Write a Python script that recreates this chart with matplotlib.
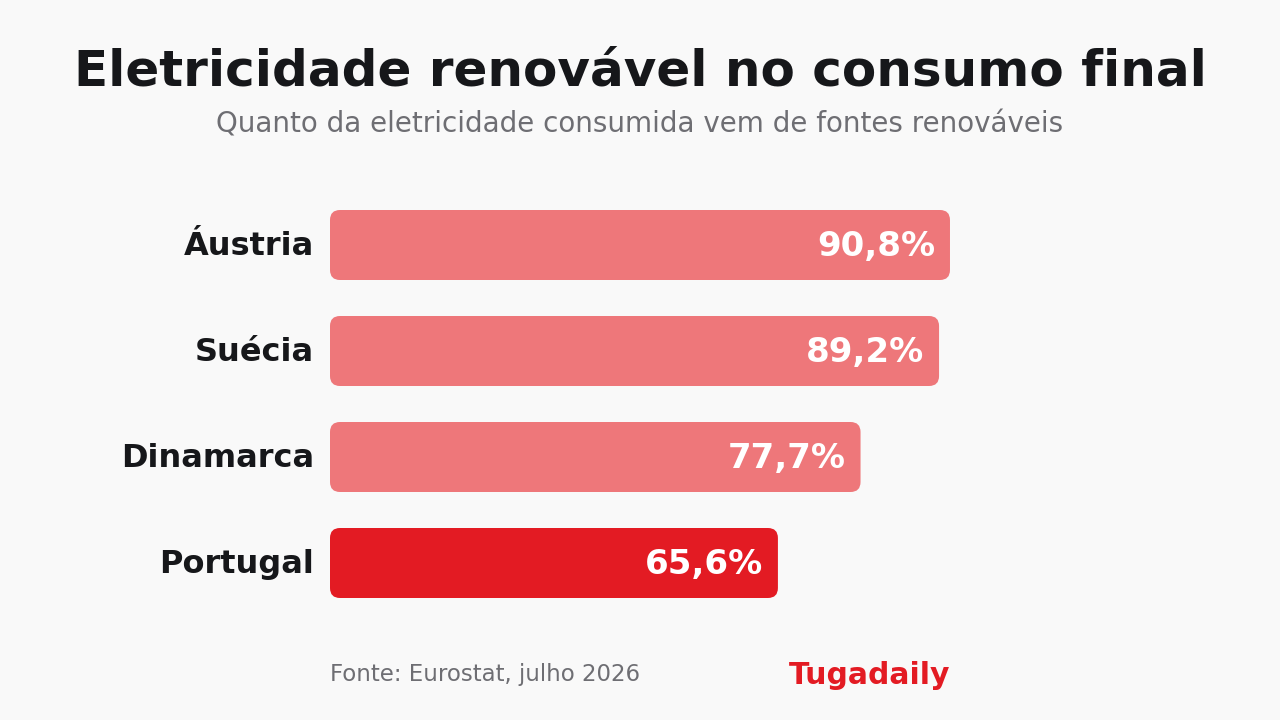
import matplotlib.pyplot as plt
from matplotlib.patches import FancyBboxPatch

# data
countries = ["Áustria", "Suécia", "Dinamarca", "Portugal"]
values = [90.8, 89.2, 77.7, 65.6]
value_labels = ["90,8%", "89,2%", "77,7%", "65,6%"]
highlight = "Portugal"

BG = "#F9F9F9"
BAR = "#EE777A"
RED = "#E31B23"
DARK = "#16171A"
GRAY = "#6E6E73"

plt.rcParams['font.family'] = ['DejaVu Sans']

fig = plt.figure(figsize=(12.8, 7.2), dpi=100, facecolor=BG)
ax = fig.add_axes([330 / 1280, (720 - 616) / 720, 682.8 / 1280, 424 / 720])
ax.set_facecolor(BG)
ax.set_xlim(0, 100)
ax.set_ylim(len(countries) - 0.5, -0.5)
ax.axis("off")

bar_h = 70 / 106
# rounding ~10px: x units = 6.828 px, y unit = 106 px
r = 10 / 6.828
aspect = (10 / 106) / r

for i, (c, v, lab) in enumerate(zip(countries, values, value_labels)):
    col = RED if c == highlight else BAR
    box = FancyBboxPatch((0, i - bar_h / 2), v, bar_h,
                         boxstyle=f"round,pad=0,rounding_size={r}",
                         mutation_aspect=aspect, fc=col, ec="none")
    ax.add_patch(box)
    ax.annotate(c, (0, i), xytext=(-16, -1.5), textcoords="offset pixels",
                ha="right", va="center", fontsize=23, fontweight="bold",
                color=DARK)
    ax.annotate(lab, (v, i), xytext=(-15, -1.5), textcoords="offset pixels",
                ha="right", va="center", fontsize=24.5, fontweight="bold",
                color="white")

fig.text(0.5, 1 - 71 / 720, "Eletricidade renovável no consumo final",
         ha="center", va="center", fontsize=36, fontweight="bold", color=DARK)
fig.text(0.5, 1 - 125 / 720, "Quanto da eletricidade consumida vem de fontes renováveis",
         ha="center", va="center", fontsize=20, color=GRAY)
fig.text(330 / 1280, 1 - 675 / 720, "Fonte: Eurostat, julho 2026",
         ha="left", va="center", fontsize=16.5, color=GRAY)
fig.text(950 / 1280, 1 - 676 / 720, "Tugadaily",
         ha="right", va="center", fontsize=21.5, fontweight="bold", color=RED)

fig.savefig("out.png", dpi=100, facecolor=BG)
